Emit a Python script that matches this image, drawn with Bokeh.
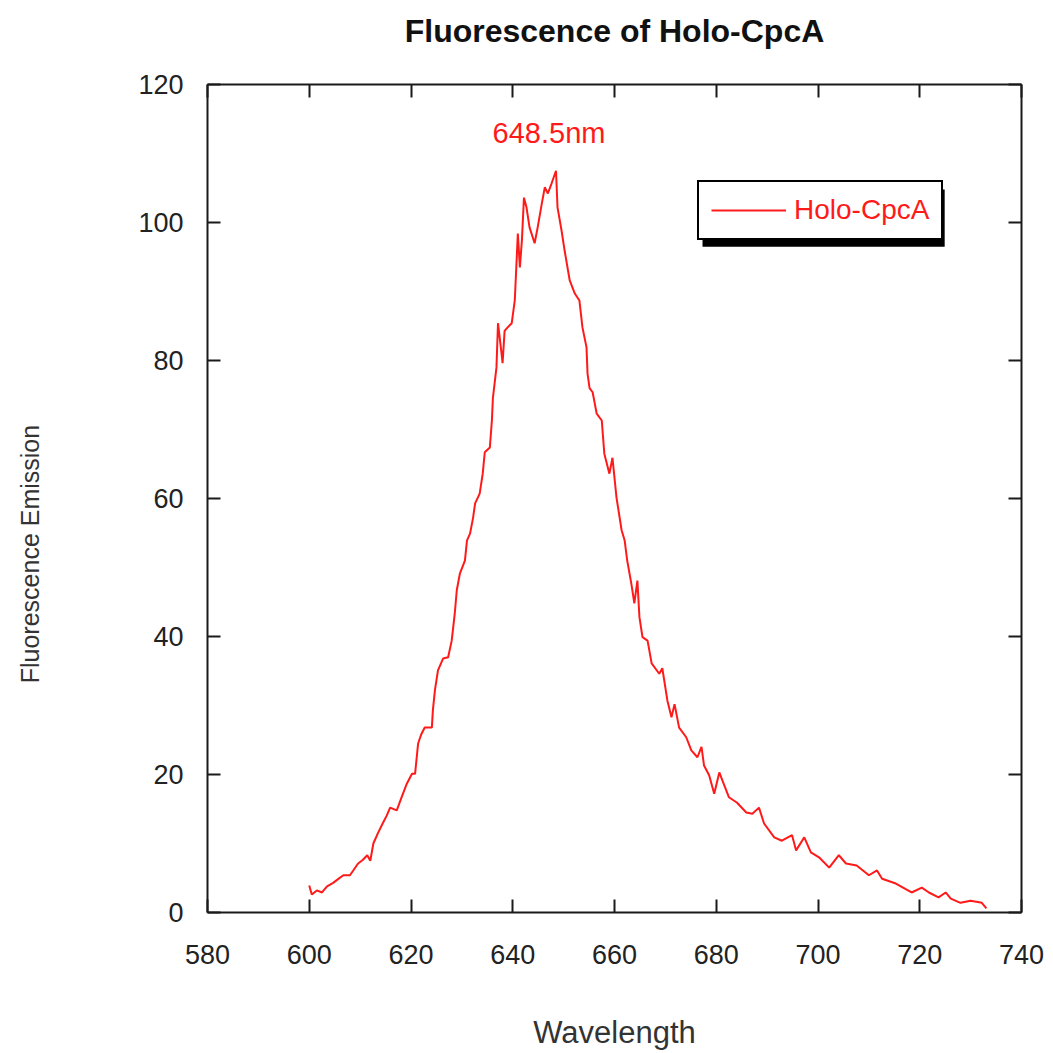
from bokeh.plotting import figure
from bokeh.models import (LinearAxis, Range1d, Label, Legend, LegendItem,
                          BoxAnnotation, FixedTicker)
from bokeh.embed import file_html
from bokeh.resources import INLINE

# Emission spectrum of Holo-CpcA (wavelength in nm, emission in a.u.)
wavelength_nm = [
    600.0, 600.5, 601.5, 602.5, 603.5, 604.7, 605.6, 606.7, 608.0, 609.6,
    610.5, 611.4, 612.0, 612.6, 613.5, 614.5, 615.2, 615.9, 617.2, 618.2,
    619.2, 620.2, 620.8, 621.4, 622.0, 622.7, 624.1, 624.3, 624.7, 625.3,
    626.3, 627.3, 628.0, 628.6, 629.0, 629.6, 630.6, 631.0, 631.6, 632.2,
    632.6, 633.5, 634.1, 634.5, 635.5, 635.9, 636.1, 636.8, 637.1, 637.8,
    638.0, 638.4, 639.0, 639.8, 640.4, 641.0, 641.4, 641.8, 642.2, 642.7,
    643.3, 644.3, 644.9, 645.7, 646.3, 646.9, 647.6, 648.5, 648.8, 649.6,
    650.2, 651.2, 652.2, 653.1, 653.7, 654.5, 654.7, 655.1, 655.7, 656.5,
    657.5, 658.0, 659.0, 659.6, 660.4, 661.4, 662.0, 662.5, 663.3, 663.9,
    664.5, 664.9, 665.5, 666.5, 667.3, 668.8, 669.4, 670.4, 671.2, 671.8,
    672.7, 674.1, 675.1, 676.3, 677.1, 677.6, 678.6, 679.6, 680.6, 681.6,
    682.5, 684.1, 685.9, 687.1, 688.4, 689.4, 691.4, 692.9, 694.9, 695.7,
    697.3, 698.6, 700.2, 702.2, 704.1, 705.5, 707.6, 710.0, 711.6, 712.6,
    715.3, 718.4, 720.4, 721.8, 723.7, 725.1, 726.1, 728.0, 730.0, 732.2,
    733.1,
]
emission = [
    3.9, 2.6, 3.2, 2.9, 3.8, 4.3, 4.8, 5.4, 5.4, 7.1,
    7.6, 8.3, 7.5, 10.0, 11.5, 13.0, 14.0, 15.2, 14.8, 16.8,
    18.7, 20.1, 20.1, 24.5, 25.8, 26.8, 26.8, 29.3, 32.2, 35.1,
    36.8, 37.0, 39.4, 43.3, 46.7, 49.1, 51.0, 53.9, 54.9, 57.2,
    59.3, 60.7, 63.6, 66.7, 67.4, 71.3, 74.6, 79.0, 85.4, 81.0,
    79.6, 84.3, 84.8, 85.4, 88.7, 98.4, 93.5, 97.4, 103.6, 102.2,
    99.3, 97.0, 99.3, 102.7, 105.1, 104.2, 105.6, 107.5, 102.2, 98.8,
    95.9, 91.6, 89.7, 88.7, 84.8, 81.9, 78.1, 76.0, 75.4, 72.3,
    71.3, 66.5, 63.6, 65.9, 60.1, 55.4, 53.9, 51.0, 47.7, 44.8,
    48.1, 42.8, 39.9, 39.4, 36.1, 34.6, 35.4, 30.7, 28.3, 30.2,
    26.8, 25.4, 23.5, 22.5, 24.0, 21.3, 19.9, 17.2, 20.3, 18.4,
    16.7, 15.9, 14.5, 14.3, 15.2, 12.9, 10.9, 10.4, 11.2, 9.0,
    10.9, 8.7, 8.0, 6.5, 8.3, 7.1, 6.8, 5.4, 6.1, 4.9,
    4.2, 2.9, 3.6, 2.9, 2.2, 2.9, 2.0, 1.4, 1.7, 1.4,
    0.6,
]
series_name = "Holo-CpcA"
chart_title = "Fluorescence of Holo-CpcA"
x_title = "Wavelength"
y_title = "Fluorescence Emission"
x_ticks = [580, 600, 620, 640, 660, 680, 700, 720, 740]
y_ticks = [0, 20, 40, 60, 80, 100, 120]

peak_y = max(emission)
peak_x = wavelength_nm[emission.index(peak_y)]

FONT = "Liberation Sans"
RED = "#ff1a1a"
AXIS = "#1a1a1a"

p = figure(width=1053, height=1053, output_backend="svg", toolbar_location=None,
           x_range=Range1d(x_ticks[0], x_ticks[-1]),
           y_range=Range1d(y_ticks[0], y_ticks[-1]),
           min_border_left=207, min_border_right=32,
           min_border_top=84, min_border_bottom=141)
p.background_fill_color = "white"
p.border_fill_color = "white"
p.outline_line_color = None
p.xgrid.visible = False
p.ygrid.visible = False

# extra frame axes on top and right (ticks only); the top one carries the title
top_axis = LinearAxis()
p.add_layout(top_axis, "above")
p.add_layout(LinearAxis(), "right")

for ax in p.xaxis:
    ax.ticker = FixedTicker(ticks=x_ticks)
for ax in p.yaxis:
    ax.ticker = FixedTicker(ticks=y_ticks)

for ax in p.axis:
    ax.axis_line_color = AXIS
    ax.axis_line_width = 2
    ax.major_tick_line_color = AXIS
    ax.major_tick_line_width = 2
    ax.major_tick_in = 13
    ax.major_tick_out = 0
    ax.minor_tick_line_color = None
    ax.major_label_text_font = FONT
    ax.major_label_text_font_size = "27px"
    ax.major_label_text_color = "#222222"
    ax.axis_label_text_font = FONT
    ax.axis_label_text_font_style = "normal"
    ax.axis_label_text_color = "#333333"

for ax in (p.above[-1], p.right[-1]):
    ax.major_label_text_color = None
    ax.major_label_text_font_size = "1px"
    ax.major_label_standoff = 0

top_axis.axis_label = chart_title
top_axis.axis_label_text_font_size = "32px"
top_axis.axis_label_text_font_style = "bold"
top_axis.axis_label_text_color = "#111111"
top_axis.axis_label_standoff = 36

xa = p.below[0]
xa.major_label_standoff = 32
xa.axis_label = x_title
xa.axis_label_text_font_size = "31px"
xa.axis_label_standoff = 48

ya = p.left[0]
ya.major_label_standoff = 24
ya.major_label_orientation = "horizontal"

# y title on its own bare axis; trailing no-break spaces push the words
# a little below the middle of the frame
y_title_axis = LinearAxis(ticker=FixedTicker(ticks=[]),
                          axis_label=y_title + "\u00a0" * 16,
                          axis_line_color=None,
                          major_tick_line_color=None, minor_tick_line_color=None,
                          major_label_text_font_size="1px",
                          major_label_text_color=None,
                          axis_label_text_font=FONT,
                          axis_label_text_font_style="normal",
                          axis_label_text_font_size="25px",
                          axis_label_text_color="#333333",
                          axis_label_standoff=92)
p.add_layout(y_title_axis, "left")

r = p.line(wavelength_nm, emission, line_color=RED, line_width=2)

# peak annotation
p.add_layout(Label(x=peak_x, y=113, text=f"{peak_x}nm", text_align="center",
                   text_baseline="middle", x_offset=-7, text_font=FONT,
                   text_font_size="29px", text_color=RED))

# drop shadow behind the legend box
p.add_layout(BoxAnnotation(left=677.3, right=724.9, top=104.8, bottom=96.5,
                           fill_color="black", fill_alpha=1.0, line_color=None,
                           level="overlay"))

legend = Legend(items=[LegendItem(label=series_name, renderers=[r])],
                location=(490, 672), orientation="vertical")
legend.border_line_color = "black"
legend.border_line_width = 2
legend.border_line_alpha = 1.0
legend.background_fill_color = "white"
legend.background_fill_alpha = 1.0
legend.label_text_color = RED
legend.label_text_font = FONT
legend.label_text_font_size = "28px"
legend.glyph_width = 75
legend.glyph_height = 28
legend.label_standoff = 8
legend.padding = 12
legend.spacing = 0
legend.margin = 0
p.add_layout(legend)

open("out.html", "w").write(file_html(p, INLINE))
